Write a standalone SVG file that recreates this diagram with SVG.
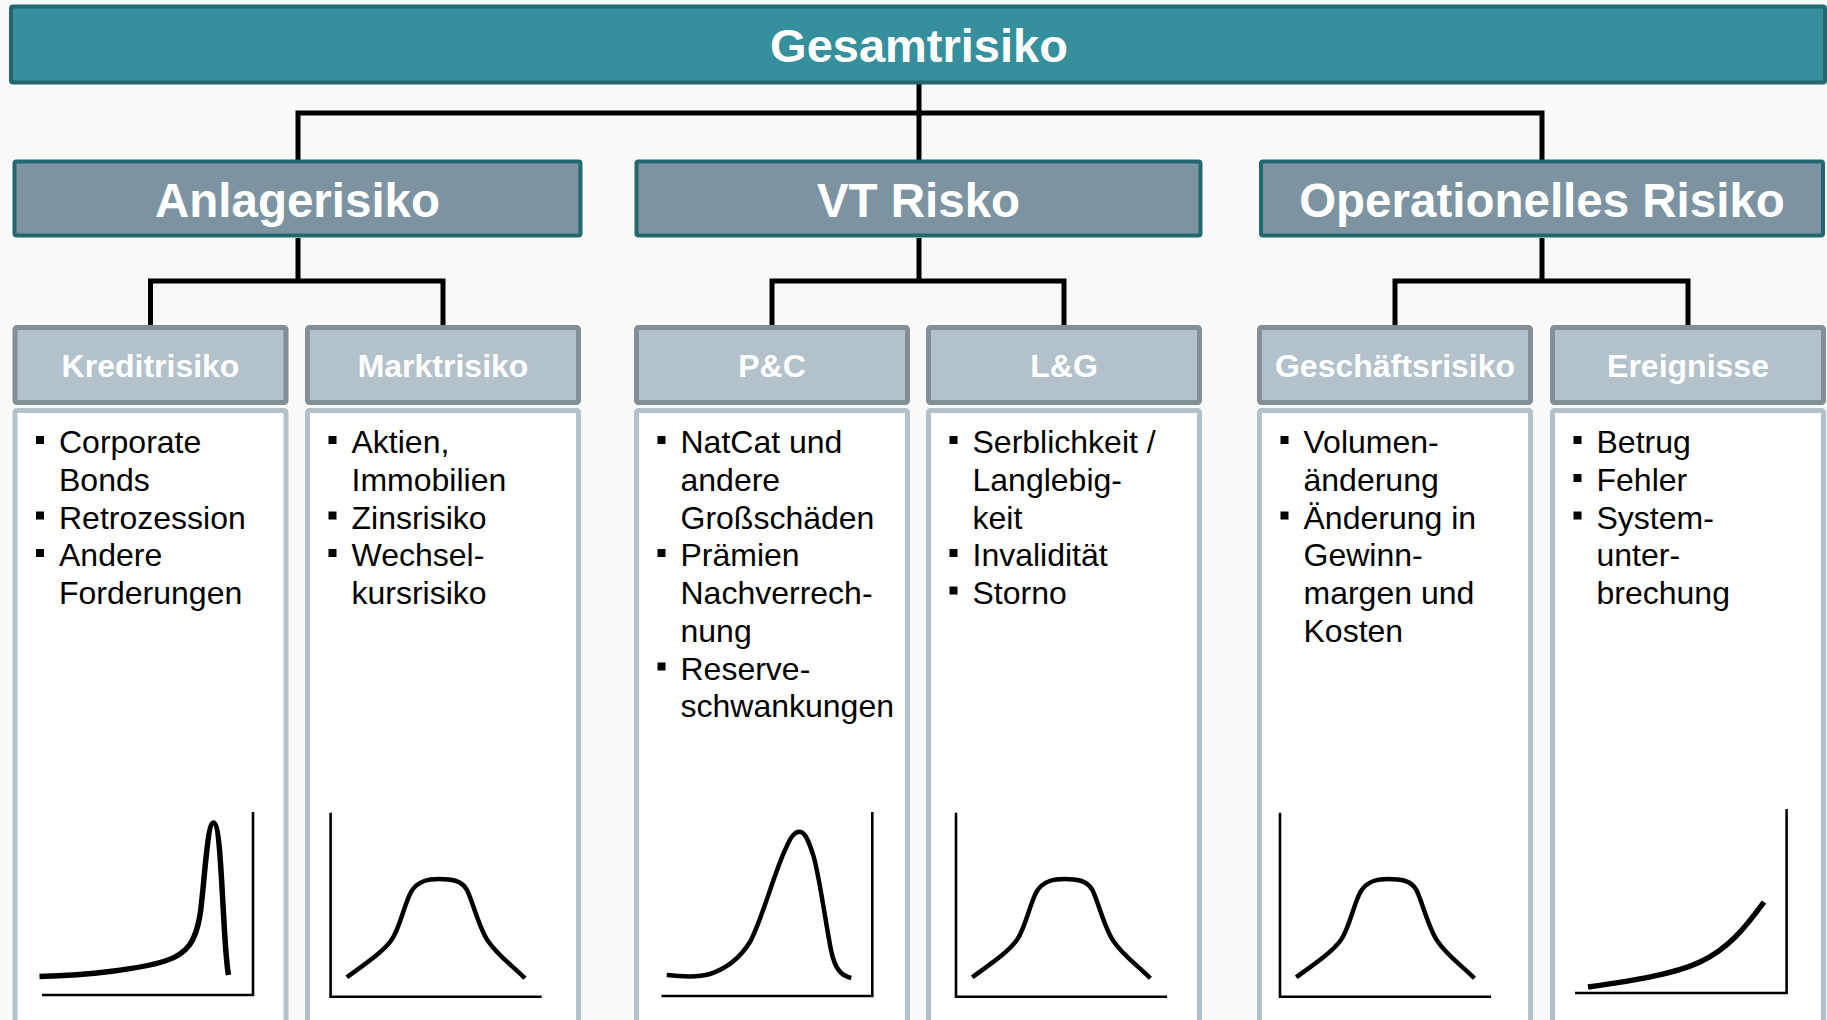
<svg xmlns="http://www.w3.org/2000/svg" xmlns:xlink="http://www.w3.org/1999/xlink" width="1827" height="1020" viewBox="0 0 1827 1020">
<defs>
<style>
.top{fill:#358F9D;stroke:#23666E;stroke-width:4}
.l2{fill:#7C94A2;stroke:#23676F;stroke-width:4}
.hd{fill:#B3C1CA;stroke:#838E95;stroke-width:5}
.ct{fill:#FFFFFF;stroke:#B3C1CA;stroke-width:5}
.tt{font-family:"Liberation Sans",Arial,sans-serif;font-weight:bold;fill:#FFFFFF;text-anchor:middle}
.t1{font-size:47px}
.t2{font-size:47.5px}
.t3{font-size:32px}
.bt{font-family:"Liberation Sans",Arial,sans-serif;font-size:32px;fill:#000000}
.bl{fill:#000000}
.con{fill:none;stroke:#000000;stroke-width:5;stroke-linejoin:miter}
.ax{fill:none;stroke:#000000;stroke-width:2.6}
.cv{fill:none;stroke:#000000;stroke-width:4.5;stroke-linecap:butt;stroke-linejoin:round}
</style>
<path id="bell" d="M346.8,977.3 C365,964 383,952 391.5,940 C400,928 404,905 411,892 C418,880 430,879 439,879 C450,879 462,880 467,890 C473,902 479,928 488,941 C498,956 513,966 525,978.3"/>
<path id="bellax" d="M330.6,812.7 V996.7 H541.7"/>
</defs>
<rect x="0" y="0" width="1827" height="1020" fill="#F9F9F9"/>

<g id="connectors">
<path class="con" d="M919,84 V160"/>
<path class="con" d="M298,160 V113 H1542 V160"/>
<path class="con" d="M298,238 V281"/>
<path class="con" d="M150.5,326 V281 H443 V326"/>
<path class="con" d="M919,238 V281"/>
<path class="con" d="M772,326 V281 H1064 V326"/>
<path class="con" d="M1542,238 V281"/>
<path class="con" d="M1395,326 V281 H1688 V326"/>
</g>

<g id="gesamtrisiko">
<rect class="top" x="11" y="6.5" width="1814" height="76" rx="2"/>
<text class="tt t1" x="919" y="61.5">Gesamtrisiko</text>
</g>

<g id="anlagerisiko">
<rect class="l2" x="14.5" y="161.5" width="566" height="74" rx="2"/>
<text class="tt t2" x="297.5" y="217">Anlagerisiko</text>
</g>
<g id="vt-risko">
<rect class="l2" x="636.5" y="161.5" width="564" height="74" rx="2"/>
<text class="tt t2" x="918.5" y="217">VT Risko</text>
</g>
<g id="operationelles-risiko">
<rect class="l2" x="1261" y="161.5" width="562" height="74" rx="2"/>
<text class="tt t2" x="1542" y="217">Operationelles Risiko</text>
</g>

<g id="kreditrisiko">
<rect class="hd" x="15" y="327.5" width="271" height="75" rx="2"/>
<text class="tt t3" x="150.5" y="376.5">Kreditrisiko</text>
<rect class="ct" x="15" y="410.5" width="271" height="640" rx="2"/>
<rect class="bl" x="36" y="436" width="8" height="8"/>
<rect class="bl" x="36" y="511.5" width="8" height="8"/>
<rect class="bl" x="36" y="549" width="8" height="8"/>
<text class="bt" x="59"><tspan x="59" y="453">Corporate</tspan><tspan x="59" y="491">Bonds</tspan><tspan x="59" y="528.5">Retrozession</tspan><tspan x="59" y="566">Andere</tspan><tspan x="59" y="604">Forderungen</tspan></text>
<path class="ax" d="M42,995 H253 V812"/>
<path class="cv" style="stroke-width:5.5" d="M39.5,976.5 C90,975 140,969 165,961 C188,954 196,940 200,915 C204,890 207,823 213.5,823 C219,823 221,870 223,905 C225,940 226,962 228.5,975"/>
</g>

<g id="marktrisiko">
<rect class="hd" x="307.5" y="327.5" width="271" height="75" rx="2"/>
<text class="tt t3" x="443" y="376.5">Marktrisiko</text>
<rect class="ct" x="307.5" y="410.5" width="271" height="640" rx="2"/>
<rect class="bl" x="328.5" y="436" width="8" height="8"/>
<rect class="bl" x="328.5" y="511.5" width="8" height="8"/>
<rect class="bl" x="328.5" y="549" width="8" height="8"/>
<text class="bt"><tspan x="351.5" y="453">Aktien,</tspan><tspan x="351.5" y="491">Immobilien</tspan><tspan x="351.5" y="528.5">Zinsrisiko</tspan><tspan x="351.5" y="566">Wechsel-</tspan><tspan x="351.5" y="604">kursrisiko</tspan></text>
<use xlink:href="#bellax" class="ax"/>
<use xlink:href="#bell" class="cv"/>
</g>

<g id="pc">
<rect class="hd" x="636.5" y="327.5" width="271" height="75" rx="2"/>
<text class="tt t3" x="772" y="376.5">P&amp;C</text>
<rect class="ct" x="636.5" y="410.5" width="271" height="640" rx="2"/>
<rect class="bl" x="657.5" y="436" width="8" height="8"/>
<rect class="bl" x="657.5" y="549" width="8" height="8"/>
<rect class="bl" x="657.5" y="662.5" width="8" height="8"/>
<text class="bt"><tspan x="680.5" y="453">NatCat und</tspan><tspan x="680.5" y="491">andere</tspan><tspan x="680.5" y="528.5">Großschäden</tspan><tspan x="680.5" y="566">Prämien</tspan><tspan x="680.5" y="604">Nachverrech-</tspan><tspan x="680.5" y="642">nung</tspan><tspan x="680.5" y="679.5">Reserve-</tspan><tspan x="680.5" y="717">schwankungen</tspan></text>
<path class="ax" d="M661.5,996 H872.3 V812"/>
<path class="cv" d="M666.7,975 C685,977 700,977 710,974 C728,968 740,958 750,942 C762,920 775,870 786,848 C790,838 795,831 800,831.7 C806,832 810,845 813.8,857 C820,880 826,925 831,950 C835,970 842,976 851.3,978"/>
</g>

<g id="lg">
<rect class="hd" x="928.5" y="327.5" width="271" height="75" rx="2"/>
<text class="tt t3" x="1064" y="376.5">L&amp;G</text>
<rect class="ct" x="928.5" y="410.5" width="271" height="640" rx="2"/>
<rect class="bl" x="949.5" y="436" width="8" height="8"/>
<rect class="bl" x="949.5" y="549" width="8" height="8"/>
<rect class="bl" x="949.5" y="586.5" width="8" height="8"/>
<text class="bt"><tspan x="972.5" y="453">Serblichkeit /</tspan><tspan x="972.5" y="491">Langlebig-</tspan><tspan x="972.5" y="528.5">keit</tspan><tspan x="972.5" y="566">Invalidität</tspan><tspan x="972.5" y="604">Storno</tspan></text>
<g transform="translate(625.4,0)">
<use xlink:href="#bellax" class="ax"/>
<use xlink:href="#bell" class="cv"/>
</g>
</g>

<g id="geschaeftsrisiko">
<rect class="hd" x="1259.5" y="327.5" width="271" height="75" rx="2"/>
<text class="tt t3" x="1395" y="376.5">Geschäftsrisiko</text>
<rect class="ct" x="1259.5" y="410.5" width="271" height="640" rx="2"/>
<rect class="bl" x="1280.5" y="436" width="8" height="8"/>
<rect class="bl" x="1280.5" y="511.5" width="8" height="8"/>
<text class="bt"><tspan x="1303.5" y="453">Volumen-</tspan><tspan x="1303.5" y="491">änderung</tspan><tspan x="1303.5" y="528.5">Änderung in</tspan><tspan x="1303.5" y="566">Gewinn-</tspan><tspan x="1303.5" y="604">margen und</tspan><tspan x="1303.5" y="642">Kosten</tspan></text>
<g transform="translate(949.4,0)">
<use xlink:href="#bellax" class="ax"/>
<use xlink:href="#bell" class="cv"/>
</g>
</g>

<g id="ereignisse">
<rect class="hd" x="1552.5" y="327.5" width="271" height="75" rx="2"/>
<text class="tt t3" x="1688" y="376.5">Ereignisse</text>
<rect class="ct" x="1552.5" y="410.5" width="271" height="640" rx="2"/>
<rect class="bl" x="1573.5" y="436" width="8" height="8"/>
<rect class="bl" x="1573.5" y="474" width="8" height="8"/>
<rect class="bl" x="1573.5" y="511.5" width="8" height="8"/>
<text class="bt"><tspan x="1596.5" y="453">Betrug</tspan><tspan x="1596.5" y="491">Fehler</tspan><tspan x="1596.5" y="528.5">System-</tspan><tspan x="1596.5" y="566">unter-</tspan><tspan x="1596.5" y="604">brechung</tspan></text>
<path class="ax" d="M1575,993 H1786.6 V809"/>
<path class="cv" style="stroke-width:5.5" d="M1588,987 C1630,981 1672,975 1700,962 C1728,949 1745,928 1764,902"/>
</g>
</svg>
